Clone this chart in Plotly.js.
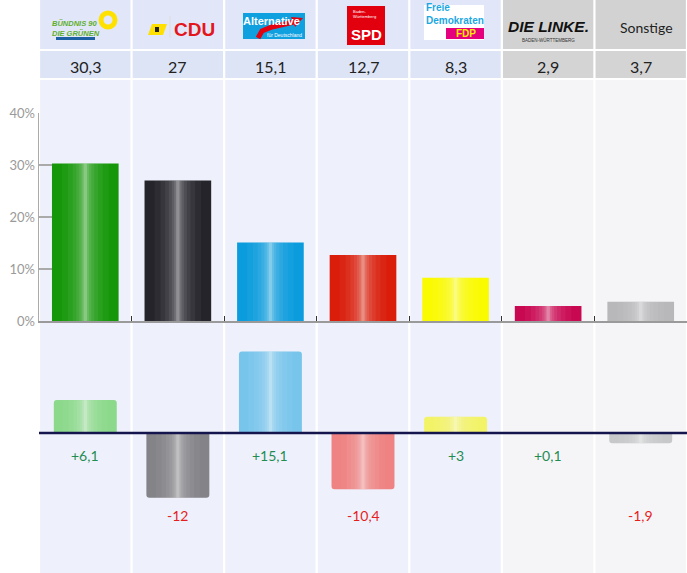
<!DOCTYPE html>
<html><head><meta charset="utf-8">
<script src="https://cdn.plot.ly/plotly-3.0.1.min.js"></script>
<style>html,body{margin:0;padding:0;background:#fff}</style>
</head><body><div id="chart" style="width:687px;height:573px"></div>
<script>
// ---- data ----
const parties = ['GRÜNE','CDU','AfD','SPD','FDP','LINKE','Sonstige'];
const shares = [30.3, 27, 15.1, 12.7, 8.3, 2.9, 3.7];
const changes = [6.1, -12, 15.1, -10.4, 3, 0.1, -1.9];
const shareTicks = [0, 10, 20, 30, 40];
const shareTickText = ['0%', '10%', '20%', '30%', '40%'];
const barColors = ['#16970a', '#24242a', '#0b9cdd', '#da1d0b', '#fafa00', '#c90852', '#b8b8ba'];
const changeColors = ['#8cd98c', '#838388', '#78c5ec', '#ef8282', '#f3f368', '#c21c61', '#c6c8ca'];
const headerGray = [false, false, false, false, false, true, true];

// ---- geometry helpers (figure pixels -> axis/paper units) ----
const W = 687, H = 573, L = 39;
const colW = (W - L) / parties.length;
const X = px => (px - L) / colW - 0.5;
const Y = py => 1 - py / H;
const idx = parties.map((_, i) => i);
const fmt = v => String(v).replace('.', ',');
const fmtSigned = v => (v > 0 ? '+' : '') + fmt(v);

const traces = [];
function addBars(vals, colors, yaxis, width, corner) {
  traces.push({type: 'bar', x: idx, y: vals, yaxis: yaxis, width: width,
    marker: {color: colors, line: {width: 0}, cornerradius: corner},
    hoverinfo: 'skip'});
  const stripes = [[0.70, 0.04], [0.52, 0.05], [0.38, 0.06], [0.27, 0.07], [0.18, 0.09], [0.11, 0.12], [0.05, 0.22]];
  stripes.forEach(([f, op]) => {
    traces.push({type: 'bar', x: idx, y: vals, yaxis: yaxis, width: width * f,
      marker: {color: 'rgba(255,255,255,' + op + ')', line: {width: 0}},
      hoverinfo: 'skip'});
  });
}
addBars(shares, barColors, 'y', 0.72, 0);
addBars(changes, changeColors, 'y2', 0.68, 3);

const shapes = [];
const annotations = [];
// column backgrounds
idx.forEach(i => {
  const x0 = i - 0.5 + 0.012, x1 = i + 0.5 - 0.012;
  shapes.push({type: 'rect', xref: 'x', yref: 'paper', x0: x0, x1: x1, y0: Y(49), y1: Y(0),
    fillcolor: headerGray[i] ? '#d2d2d2' : '#e1e7f8', line: {width: 0}, layer: 'below'});
  shapes.push({type: 'rect', xref: 'x', yref: 'paper', x0: x0, x1: x1, y0: Y(78), y1: Y(51),
    fillcolor: headerGray[i] ? '#d4d4d4' : '#dde4f6', line: {width: 0}, layer: 'below'});
  shapes.push({type: 'rect', xref: 'x', yref: 'paper', x0: x0, x1: x1, y0: 0, y1: Y(80),
    fillcolor: headerGray[i] ? '#f5f5f7' : '#eef1fb', line: {width: 0}, layer: 'below'});
  // values row
  annotations.push({xref: 'x', yref: 'paper', x: i, y: Y(66), xanchor: 'center', yanchor: 'middle',
    text: fmt(shares[i]), showarrow: false, font: {size: 16, color: '#222', family: 'Lato, sans-serif'}});
  // change labels
  annotations.push({xref: 'x', yref: 'y2', x: i, y: changes[i] > 0 ? -4.2 : -15.2,
    xanchor: 'center', yanchor: 'middle', text: fmtSigned(changes[i]), showarrow: false,
    font: {size: 14, color: changes[i] > 0 ? '#1f8c52' : '#e51d1d', family: 'Lato, sans-serif'}});
});
// bottom zero line
shapes.push({type: 'line', xref: 'x', yref: 'y2', x0: -0.5, x1: 6.5, y0: 0, y1: 0,
  line: {color: '#15154d', width: 2.5}, layer: 'above'});

// ---- logos (approximations) ----
const bold = 'Liberation Sans, Arial, sans-serif';
function txt(px, py, t, size, color, opts) {
  annotations.push(Object.assign({xref: 'x', yref: 'paper', x: X(px), y: Y(py), text: t,
    xanchor: 'center', yanchor: 'middle', showarrow: false,
    font: {size: size, color: color, family: bold}}, opts || {}));
}
function rect(x0, y0, x1, y1, color, extra) {
  shapes.push(Object.assign({type: 'rect', xref: 'x', yref: 'paper', x0: X(x0), x1: X(x1),
    y0: Y(y1), y1: Y(y0), fillcolor: color, line: {width: 0}}, extra || {}));
}
function path(pts, fill, line) {
  const d = pts.map((p, k) => (k ? 'L' : 'M') + X(p[0]) + ',' + Y(p[1])).join(' ') + (fill ? ' Z' : '');
  shapes.push({type: 'path', xref: 'x', yref: 'paper', path: d,
    fillcolor: fill || 'rgba(0,0,0,0)', line: line || {width: 0}});
}
// Grüne
txt(76, 29, '<b><i>BÜNDNIS 90<br>DIE GRÜNEN</i></b>', 7.5, '#5fae2e', {align: 'left'});
rect(56, 37, 95, 40, '#1d5fa3');
shapes.push({type: 'circle', xref: 'x', yref: 'paper', x0: X(101), x1: X(115), y0: Y(27), y1: Y(13),
  line: {color: '#ffe100', width: 5}, fillcolor: 'rgba(0,0,0,0)'});
// CDU
path([[148, 35], [152, 24], [167, 24], [163, 35]], '#ffe000');
rect(155, 27, 159, 32, '#222');
path([[170, 16], [170, 38]], null, {color: '#dddddd', width: 1});
txt(194, 30, '<b>CDU</b>', 19, '#e3161d');
// AfD
rect(243, 13, 305, 39, '#0fa0df');
txt(271, 21, '<b>Alternative</b>', 11, '#ffffff');
path([[258, 38], [262, 31], [272, 27], [294, 22]], null, {color: '#e3000f', width: 5});
path([[291, 17], [303, 18], [295, 27]], '#e3000f');
txt(284, 35, 'für Deutschland', 5, '#ffffff');
// SPD
rect(347, 6, 385, 45, '#e2000f');
txt(351, 14, 'Baden-<br>Württemberg', 4, '#ffffff', {xanchor: 'left', align: 'left'});
txt(366, 35, '<b>SPD</b>', 15, '#ffffff');
// FDP
rect(424, 5, 484, 40, '#ffffff');
txt(425, 14, '<b>Freie<br>Demokraten</b>', 10, '#1aa8e2', {xanchor: 'left', align: 'left', borderpad: 0});
rect(446, 28, 484, 39, '#e5007d');
txt(466, 34, '<b>FDP</b>', 10, '#ffed00', {borderpad: 0});
// Linke
txt(548, 27, '<b><i>DIE LINKE.</i></b>', 15.5, '#111', {font: {size: 15.5, color: '#111', family: 'Liberation Sans Narrow, Liberation Sans, Arial, sans-serif'}});
txt(548, 40.5, 'BADEN-WÜRTTEMBERG', 4.5, '#333');
// Sonstige
txt(646, 28, 'Sonstige', 14, '#222', {font: {size: 14, color: '#222', family: 'Lato, sans-serif'}});

const layout = {
  width: W, height: H, margin: {l: L, r: 0, t: 0, b: 0},
  paper_bgcolor: '#ffffff', plot_bgcolor: 'rgba(0,0,0,0)',
  barmode: 'overlay', showlegend: false, hovermode: false,
  font: {family: 'Lato, sans-serif'},
  xaxis: {range: [-0.5, 6.5], showgrid: false, zeroline: false, showline: true,
    linecolor: '#9a9a9a', linewidth: 2, tickvals: [0.5, 1.5, 2.5, 3.5, 4.5, 5.5, 6.5],
    ticks: 'inside', ticklen: 5, tickcolor: '#333', tickwidth: 1, showticklabels: false,
    fixedrange: true, anchor: 'y'},
  yaxis: {domain: [Y(321), Y(113)], range: [0, 40], tickvals: shareTicks, ticktext: shareTickText,
    ticks: 'inside', ticklen: 15, tickcolor: '#aaaaaa', tickwidth: 1.5, showline: true,
    linecolor: '#aaaaaa', linewidth: 1.5, showgrid: false, zeroline: false,
    tickfont: {size: 13, color: '#9a9a9a', family: 'Lato, sans-serif'},
    layer: 'below traces', fixedrange: true},
  yaxis2: {domain: [0, Y(332)], range: [-(H - 433) / 5.4, (433 - 332) / 5.4], visible: false,
    fixedrange: true, anchor: 'x'},
  shapes: shapes, annotations: annotations
};
Plotly.newPlot('chart', traces, layout, {displayModeBar: false, staticPlot: true});
</script></body></html>
